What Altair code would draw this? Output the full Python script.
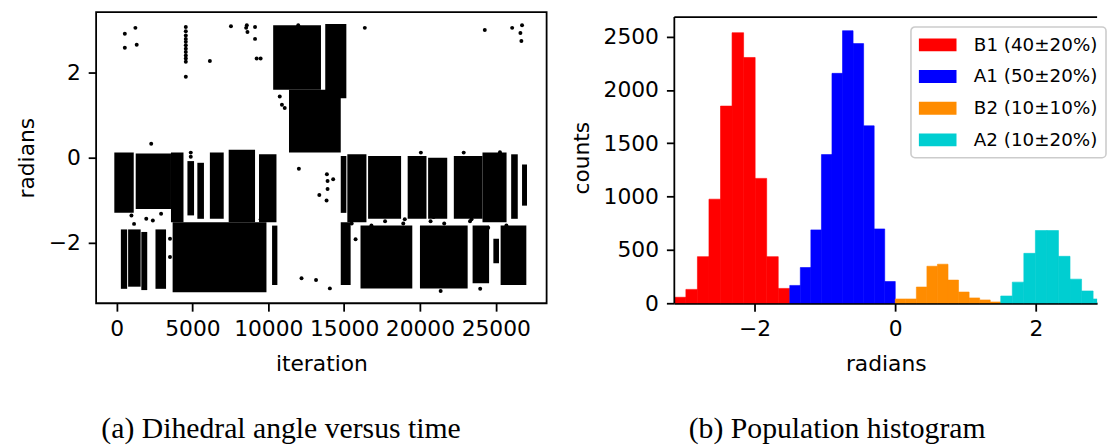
import altair as alt
import numpy as np
import pandas as pd

PI = float(np.pi)

# ---------------- left panel: trajectory (dense regions read as spans) ----------------
block_start = [-150, 1260, 3585, 4670, 5324, 6150, 7390, 9390, 14778, 15212, 16580, 19190,
               20538, 22233, 24123, 26013, 26730,
               282, 760, 1630, 2564, 3694, 10250, 14778, 16081, 20000, 23471, 24840, 25318,
               10323, 13756, 11366]
block_end = [1130, 3585, 4410, 5107, 5759, 7062, 9128, 10540, 15147, 16472, 18756, 20430,
             21798, 24123, 25710, 26448, 27056,
             695, 1586, 2020, 3260, 9880, 10600, 15430, 19495, 23145, 24558, 25210, 27013,
             13474, 15147, 14778]
block_low = [-1.30, -1.21, -1.52, -1.36, -1.44, -1.44, -1.52, -1.52, -1.30, -1.52, -1.44, -1.44,
             -1.44, -1.44, -1.52, -1.44, -1.13,
             -3.09, -3.04, -3.12, -3.09, -3.17, -3.00, -3.00, -3.08, -3.08, -2.96, -2.49, -3.00,
             1.60, 1.40, 0.12]
block_high = [0.12, 0.10, 0.12, -0.08, -0.12, 0.12, 0.19, 0.08, 0.04, 0.08, 0.04, 0.04,
              0.00, 0.04, 0.12, 0.08, -0.16,
              -1.69, -1.69, -1.75, -1.69, -1.52, -1.60, -1.52, -1.60, -1.60, -1.60, -1.91, -1.60,
              3.12, 3.15, 1.60]

out_iter = [543, 543, 1239, 1326,
            4563, 4563, 4563, 4563, 4563, 4563, 4563, 4563, 4563, 4563, 4563, 4563,
            6150, 7540, 8540, 8627, 8585, 9128, 9128, 9237, 9497,
            11975, 13256, 16364, 24275, 26079, 26730, 26622, 26687,
            2282, 4890, 4890,
            12018, 13865, 13909, 13909, 13843, 13365, 14278, 15756,
            3520, 3520, 978, 1152, 1956, 2390, 2934,
            12192, 13148, 14060, 23971, 21364,
            10757, 10900, 11085, 20060, 22885, 25275,
            18900, 19000, 20700, 20900, 21600, 23300, 23400, 24500, 25700, 26200,
            26450, 9000, 9500, 15500, 16800, 17700]
out_rad = [2.92, 2.59, 3.06, 2.66,
           3.08, 2.98, 2.88, 2.80, 2.73, 2.65, 2.57, 2.49, 2.41, 2.34, 2.26, 1.91,
           2.28, 3.10, 3.06, 2.96, 3.12, 3.08, 2.80, 2.34, 2.34,
           3.12, 3.00, 3.06, 3.01, 3.06, 3.12, 2.94, 2.75,
           0.33, 0.12, 0.02,
           -0.26, -0.39, -0.55, -0.74, -1.01, -0.88, -0.51, -1.92,
           -1.91, -2.34, -1.36, -1.56, -1.44, -1.48, -1.32,
           -2.84, -2.88, -3.08, -3.09, -3.14,
           1.44, 1.25, 1.17, 0.12, 0.12, 0.13,
           -1.55, -1.45, -1.50, -1.40, -1.55, -1.50, -1.45, -1.65, -1.60, -1.35,
           -1.80, -1.60, -1.45, -1.55, -1.60, -1.50]

iter_ticks = [0, 5000, 10000, 15000, 20000, 25000]
rad_ticks = [-2, 0, 2]

# ---------------- right panel: population histogram ----------------
states = ["B1 (40±20%)", "A1 (50±20%)", "B2 (10±10%)", "A2 (10±20%)"]
state_colors = ["#ff0000", "#0000ff", "#ff8c00", "#00ced1"]
state_bounds = [-PI, -1.5, 0.0, 1.5, PI]
bins_per_state = 10
counts_B1 = [56, 130, 437, 976, 1849, 2537, 2305, 1171, 437, 139]
counts_A1 = [167, 335, 688, 1394, 2156, 2556, 2435, 1664, 697, 204]
counts_B2 = [40, 40, 152, 347, 366, 217, 105, 50, 31, 12]
counts_A2 = [68, 198, 468, 682, 682, 440, 226, 115, 40, 12]
count_ticks = [0, 500, 1000, 1500, 2000, 2500]
count_top = 2684
x_visible_max = 2.87   # the figure is cropped on the right in the reference

# ---------------- tables ----------------
blocks = pd.DataFrame({"x0": block_start, "x1": block_end, "y0": block_low, "y1": block_high})
pts = pd.DataFrame({"x0": out_iter, "y0": out_rad})

rows = []
for i, (st, cnts) in enumerate(zip(states, [counts_B1, counts_A1, counts_B2, counts_A2])):
    edges = np.linspace(state_bounds[i], state_bounds[i + 1], bins_per_state + 1)
    for j, c in enumerate(cnts):
        rows.append({"x0": float(edges[j]), "x1": float(edges[j + 1]), "count": c, "base": 0, "state": st})
hist = pd.DataFrame(rows)

# ---------------- left chart ----------------
xs = alt.Scale(domain=[-1350, 28350], nice=False, zero=False)
ys = alt.Scale(domain=[-3.43, 3.43], nice=False, zero=False)
x_axis = alt.Axis(title="iteration", values=iter_ticks, format="d", titlePadding=14,
                  domain=False, labelOverlap=False, labelFlush=False)
y_axis = alt.Axis(title="radians", values=rad_ticks, titlePadding=10, domain=False)

rects = alt.Chart(blocks).mark_rect(color="black").encode(
    x=alt.X("x0:Q", scale=xs, axis=x_axis),
    x2="x1:Q",
    y=alt.Y("y0:Q", scale=ys, axis=y_axis),
    y2="y1:Q",
)
dots = alt.Chart(pts).mark_circle(color="black", size=16, opacity=1).encode(
    x=alt.X("x0:Q", scale=xs, axis=x_axis),
    y=alt.Y("y0:Q", scale=ys, axis=y_axis),
)

left = alt.layer(rects, dots).properties(
    width=455, height=294,
    view=alt.ViewBackground(stroke="black", strokeWidth=1.8),
    title=alt.TitleParams(text="(a) Dihedral angle versus time", orient="bottom", anchor="middle",
                          frame="bounds", font="Liberation Serif", fontSize=30,
                          fontWeight="normal", color="black", offset=40),
)

# ---------------- right chart ----------------
hx = alt.Scale(domain=[-PI, x_visible_max], nice=False, zero=False)
hy = alt.Scale(domain=[0, 2730], nice=False, zero=False)
color_scale = alt.Scale(domain=states, range=state_colors)

bars = alt.Chart(hist).mark_rect(strokeWidth=0.6, clip=True).encode(
    x=alt.X("x0:Q", scale=hx, axis=alt.Axis(title="radians", values=rad_ticks, format="d",
                                            titlePadding=14, labelFlush=False)),
    x2="x1:Q",
    y=alt.Y("count:Q", scale=hy, axis=alt.Axis(title="counts", values=count_ticks, format="d",
                                               titlePadding=10, domain=False)),
    y2="base:Q",
    color=alt.Color("state:N", scale=color_scale, sort=states, legend=alt.Legend(
        title=None, orient="none", legendX=823, legendY=15,
        symbolType="M-1.0,-0.65L2.8,-0.65L2.8,0.65L-1.0,0.65Z", symbolSize=400,
        symbolStrokeWidth=0, symbolOpacity=1,
        labelFont="DejaVu Sans", labelFontSize=18.5, labelColor="black", labelOffset=35.5,
        rowPadding=12, padding=8, fillColor="white", strokeColor="#cccccc", cornerRadius=4,
    )),
    stroke=alt.Stroke("state:N", scale=color_scale, sort=states, legend=None),
)

frame_data = alt.Data(values=[{"k": 0}])
left_line = alt.Chart(frame_data).mark_rule(color="black", strokeWidth=1.8).encode(
    x=alt.datum(-PI), y=alt.datum(0), y2=alt.datum(count_top))
top_line = alt.Chart(frame_data).mark_rule(color="black", strokeWidth=1.8).encode(
    y=alt.datum(count_top), x=alt.datum(-PI), x2=alt.datum(x_visible_max))

right = alt.layer(bars, left_line, top_line).properties(
    width=427, height=294,
    view=alt.ViewBackground(strokeWidth=0),
    title=alt.TitleParams(text="(b) Population histogram", orient="bottom", anchor="middle",
                          frame="bounds", font="Liberation Serif", fontSize=30,
                          fontWeight="normal", color="black", offset=40, dx=3),
)

chart = alt.hconcat(left, right, spacing=23).properties(
    padding={"left": 6, "top": 1, "right": 0, "bottom": 0}
).configure_view(strokeWidth=0).configure_axis(
    labelFont="DejaVu Sans", labelFontSize=22, labelColor="black",
    titleFont="DejaVu Sans", titleFontSize=22, titleFontWeight="normal", titleColor="black",
    tickColor="black", tickSize=8, tickWidth=1.8, labelPadding=8, grid=False,
    domainColor="black", domainWidth=1.8,
).configure_legend(strokeWidth=1.6)

chart.save("out.html", embed_options={"renderer": "svg", "actions": False})
